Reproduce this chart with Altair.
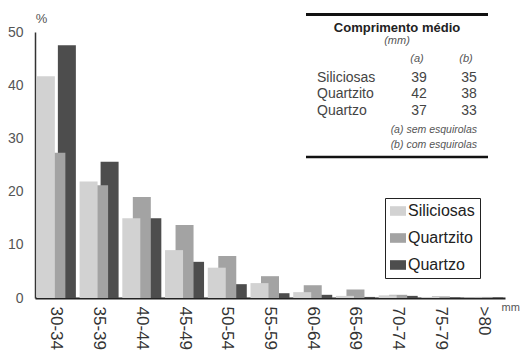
import altair as alt
import pandas as pd

categories = ["30-34", "35-39", "40-44", "45-49", "50-54", "55-59",
              "60-64", "65-69", "70-74", "75-79", ">80"]
siliciosas = [41.7, 21.9, 15.0, 9.0, 5.7, 2.8, 1.1, 0.4, 0.5, 0.2, 0.1]
quartzito = [27.3, 21.2, 19.0, 13.7, 7.9, 4.1, 2.4, 1.6, 0.6, 0.3, 0.2]
quartzo = [47.5, 25.6, 15.0, 6.8, 2.6, 0.9, 0.6, 0.2, 0.4, 0.1, 0.1]

series_names = ["Siliciosas", "Quartzito", "Quartzo"]
series_colors = ["#d2d2d2", "#a3a3a3", "#4d4d4d"]

# inset table
table_rows = ["Siliciosas", "Quartzito", "Quartzo"]
mean_a = [39, 42, 37]
mean_b = [35, 38, 33]

FONT = "Liberation Sans"

rows = []
# drawing order: back to front (Quartzo behind, Siliciosas in front)
for name, vals in [("Quartzo", quartzo), ("Quartzito", quartzito), ("Siliciosas", siliciosas)]:
    for c, v in zip(categories, vals):
        rows.append({"classe": c, "serie": name, "pct": v})
df = pd.DataFrame(rows)

bars = alt.Chart(df).mark_bar(size=18).encode(
    x=alt.X("classe:N", sort=categories,
            scale=alt.Scale(paddingInner=0.1, paddingOuter=0.05),
            axis=alt.Axis(title="mm", labelAngle=90, labelAlign="left",
                          labelBaseline="middle", ticks=False, labelPadding=8,
                          labelFontSize=17, labelColor="#333333", labelFont=FONT,
                          domainColor="#222222", domainWidth=2,
                          titleX=466, titleY=9, titleAlign="left",
                          titleBaseline="middle", titleFontSize=11,
                          titleFontWeight="normal", titleColor="#555555",
                          titleFont=FONT)),
    xOffset=alt.XOffset("serie:N", sort=series_names,
                        scale=alt.Scale(domain=series_names, paddingInner=0,
                                        paddingOuter=0.33)),
    y=alt.Y("pct:Q", stack=None, scale=alt.Scale(domain=[0, 50], nice=False),
            axis=alt.Axis(values=[0, 10, 20, 30, 40, 50], ticks=False, grid=False,
                          labelPadding=12, labelFontSize=14, labelColor="#555555",
                          labelFont=FONT, domainColor="#333333", domainWidth=1.5,
                          title="%", titleAngle=0, titleX=6, titleY=-14,
                          titleAlign="center", titleBaseline="middle",
                          titleFontSize=13, titleFontWeight="normal",
                          titleColor="#555555", titleFont=FONT)),
    color=alt.Color("serie:N",
                    scale=alt.Scale(domain=series_names, range=series_colors),
                    legend=alt.Legend(title=None, orient="none", legendX=350,
                                      legendY=166, direction="vertical",
                                      strokeColor="#222222", padding=5,
                                      rowPadding=11,
                                      symbolType="M-1,-0.6H1V0.6H-1Z",
                                      symbolSize=256, symbolStrokeWidth=0,
                                      labelFontSize=16, labelFont=FONT,
                                      labelColor="#222222", labelOffset=2)),
)

# page coords -> chart coords: subtract (35, 32)
OX, OY = 35, 32

def txt(text, x, y, size, align="center", weight="normal", style="normal", color="#333333"):
    return alt.Chart(pd.DataFrame({"t": [text]})).mark_text(
        align=align, baseline="alphabetic", fontSize=size, fontWeight=weight,
        fontStyle=style, font=FONT, color=color
    ).encode(text="t:N", x=alt.value(x - OX), y=alt.value(y - OY))

def rule(y, w):
    return alt.Chart(pd.DataFrame({"a": [0]})).mark_rule(
        color="#111111", strokeWidth=w
    ).encode(x=alt.value(306 - OX), x2=alt.value(488 - OX), y=alt.value(y - OY))

layers = [bars, rule(14.5, 3), rule(157, 2.5),
          txt("Comprimento médio", 397, 32, 13, weight="bold", color="#222222"),
          txt("(mm)", 397, 44, 11, style="italic", color="#555555"),
          txt("(a)", 417, 62, 11, style="italic", color="#555555"),
          txt("(b)", 466, 62, 11, style="italic", color="#555555")]

baselines = [82, 98, 115]
for name, a, b, yb in zip(table_rows, mean_a, mean_b, baselines):
    layers.append(txt(name, 317, yb, 14, align="left", color="#444444"))
    layers.append(txt(str(a), 419, yb, 14, color="#444444"))
    layers.append(txt(str(b), 469, yb, 14, color="#444444"))

layers.append(txt("(a) sem esquirolas", 477, 133, 10.5, align="right", style="italic", color="#555555"))
layers.append(txt("(b) com esquirolas", 477, 148, 10.5, align="right", style="italic", color="#555555"))

chart = alt.layer(*layers).properties(
    width=470, height=266,
    autosize=alt.AutoSizeParams(type="none"),
    padding={"left": 35, "top": 32, "right": 15, "bottom": 52},
    background="white",
).configure_view(stroke=None)

chart.save("out.html", embed_options={"renderer": "svg", "actions": False})
